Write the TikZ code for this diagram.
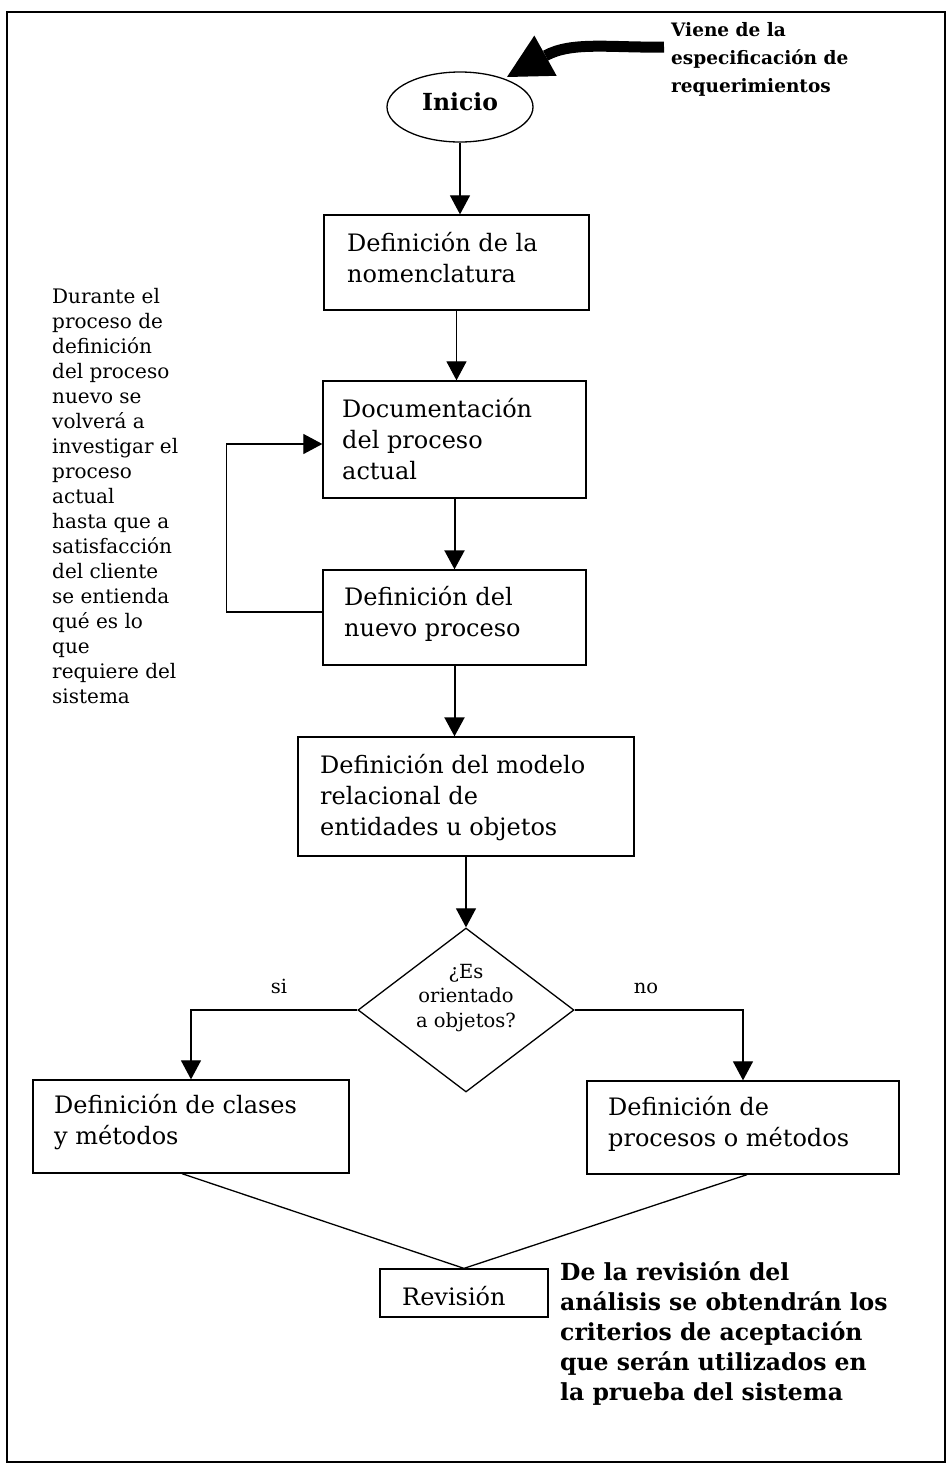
\documentclass[tikz,border=0pt]{standalone}
\usepackage{fontspec}
\setmainfont{DejaVu Serif}
\usetikzlibrary{arrows.meta,shapes.geometric}
% stacked lines of text; the node baseline is that of the first line
\newcommand\txtlines[1]{\begin{tabular}[t]{@{}l@{}}#1\end{tabular}}
\newcommand\ctxtlines[1]{\begin{tabular}[t]{@{}c@{}}#1\end{tabular}}
\begin{document}
\begin{tikzpicture}[x=1pt,y=-1pt,
  every node/.style={inner sep=0pt},
  box/.style={draw, line width=1.3pt, rectangle},
  boxtext/.style={anchor=base west, font=\fontsize{24}{31}\selectfont},
  notetext/.style={anchor=base west, font=\fontsize{20}{25}\selectfont},
  smalltext/.style={anchor=base, font=\fontsize{19.5}{24.5}\selectfont},
  boldtext/.style={anchor=base west, font=\fontsize{23.5}{30}\selectfont\bfseries},
  flow/.style={draw, line width=1.2pt, -{Triangle[length=19pt,width=20pt]}},
  thickflow/.style={flow, line width=2pt},
  link/.style={draw, line width=1.3pt},
]
\useasboundingbox (0,0) rectangle (950,1468);
\fill[white] (0,0) rectangle (950,1468);

% outer frame
\node[draw, line width=1.3pt, minimum width=938pt, minimum height=1450pt] (frame) at (476,737) {};

% start
\node[draw, ellipse, line width=1.3pt, minimum width=146pt, minimum height=70pt] (inicio) at (460,107) {};
\node[anchor=base, font=\fontsize{23.5}{28}\selectfont\bfseries] (iniciot) at (460,110) {Inicio};

% incoming note with its heavy arrow
\node[anchor=base west, font=\fontsize{18.5}{28}\selectfont\bfseries] (viene) at (671,36)
  {\txtlines{Viene de la\\especificación de\\requerimientos}};
\coordinate (vstart) at (664,47);
\coordinate (vtip) at (507,77);
\draw[line width=11pt, -{Triangle[length=44pt,width=46pt,line width=0pt]}]
  (vstart) .. controls (612,48) and (572,41) .. (vtip);

% process boxes
\node[box, minimum width=265pt, minimum height=95pt] (b1) at (456.5,262.5) {};
\node[boxtext] (b1t) at (347,251) {\txtlines{Definición de la\\nomenclatura}};

\node[box, minimum width=263pt, minimum height=117pt] (b2) at (454.5,439.5) {};
\node[boxtext] (b2t) at (342,417) {\txtlines{Documentación\\del proceso\\actual}};

\node[box, minimum width=263pt, minimum height=95pt] (b3) at (454.5,617.5) {};
\node[boxtext] (b3t) at (344,605) {\txtlines{Definición del\\nuevo proceso}};

\node[box, minimum width=336pt, minimum height=119pt] (b4) at (466,796.5) {};
\node[boxtext] (b4t) at (320,773) {\txtlines{Definición del modelo\\relacional de\\entidades u objetos}};

% decision
\node[draw, diamond, line width=1.3pt, minimum width=216pt, minimum height=164pt] (dec) at (466,1010) {};
\node[smalltext] (dect) at (466,978) {\ctxtlines{¿Es\\orientado\\a objetos?}};
\node[smalltext] (si) at (279,993) {si};
\node[smalltext] (no) at (646,993) {no};

\node[box, minimum width=316pt, minimum height=93pt] (b5) at (191,1126.5) {};
\node[boxtext] (b5t) at (54,1113) {\txtlines{Definición de clases\\y métodos}};

\node[box, minimum width=312pt, minimum height=93pt] (b6) at (743,1127.5) {};
\node[boxtext] (b6t) at (608,1115) {\txtlines{Definición de\\procesos o métodos}};

\node[box, minimum width=168pt, minimum height=48pt] (rev) at (464,1293) {};
\node[boxtext] (revt) at (402,1305) {Revisión};

% side notes
\node[notetext] (note) at (52,303) {\txtlines{Durante el\\proceso de\\definición\\del proceso\\nuevo se\\volverá a\\investigar el\\proceso\\actual\\hasta que a\\satisfacción\\del cliente\\se entienda\\qué es lo\\que\\requiere del\\sistema}};

\node[boldtext] (crit) at (560,1280) {\txtlines{De la revisión del\\análisis se obtendrán los\\criterios de aceptación\\que serán utilizados en\\la prueba del sistema}};

% connectors
\draw[flow] (inicio.south) -- (inicio.south |- b1.north);
\draw[flow] (b1.south) -- (b1.south |- b2.north);
\draw[thickflow] (b2.south) -- (b2.south |- b3.north);
\draw[thickflow] (b3.south) -- (b3.south |- b4.north);
\draw[flow] (b4.south) -- (dec.north);
\draw[flow] ([yshift=5.5pt]b3.west) -- ++(-96,0) |- ([yshift=-4.5pt]b2.west);
\draw[flow] (dec.west) -| (b5.north);
\draw[flow] (dec.east) -| (b6.north);
\draw[link] ([xshift=-9pt]b5.south) -- (rev.north);
\draw[link] ([xshift=4pt]b6.south) -- (rev.north);
\end{tikzpicture}
\end{document}
